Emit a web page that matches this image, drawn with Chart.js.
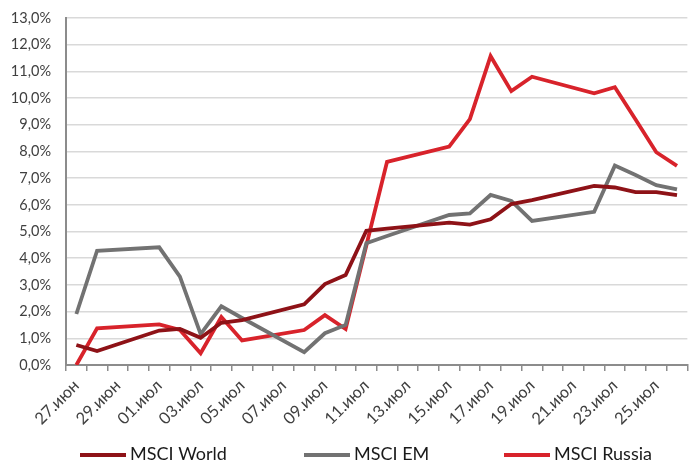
<!DOCTYPE html>
<html>
<head>
<meta charset="utf-8">
<script src="https://cdn.jsdelivr.net/npm/chart.js@4/dist/chart.umd.min.js"></script>
<style>
  html, body { margin: 0; padding: 0; background: #fff; overflow: hidden; }
  #wrap { width: 696px; height: 461px; }
</style>
</head>
<body>
<div id="wrap"><canvas id="chart" width="696" height="461"></canvas></div>
<script>
// days 27.06 - 26.07, one category per calendar day (weekends are null)
const days = ['27.июн','28.июн','29.июн','30.июн','01.июл','02.июл','03.июл','04.июл','05.июл','06.июл',
  '07.июл','08.июл','09.июл','10.июл','11.июл','12.июл','13.июл','14.июл','15.июл','16.июл',
  '17.июл','18.июл','19.июл','20.июл','21.июл','22.июл','23.июл','24.июл','25.июл','26.июл'];

const msciWorld = [0.75, 0.52, null, null, 1.29, 1.35, 1.02, 1.58, 1.68, null, null, 2.27, 3.03, 3.37, 5.03,
  5.11, null, null, 5.33, 5.26, 5.46, 6.03, 6.18, null, null, 6.71, 6.65, 6.48, 6.48, 6.36];
const msciEM = [1.91, 4.28, null, null, 4.41, 3.31, 1.16, 2.2, 1.76, null, null, 0.48, 1.19, 1.5, 4.56,
  4.83, null, null, 5.62, 5.68, 6.37, 6.15, 5.4, null, null, 5.74, 7.47, 7.12, 6.74, 6.58];
const msciRussia = [0.0, 1.37, null, null, 1.52, 1.31, 0.44, 1.8, 0.92, null, null, 1.31, 1.87, 1.35, 4.48,
  7.61, null, null, 8.18, 9.21, 11.57, 10.26, 10.8, null, null, 10.18, 10.41, 9.2, 7.97, 7.46];

const yMin = 0, yMax = 13, yStep = 1;

const FONT = 'Lato, "Open Sans", sans-serif';

// legend row drawn by hand: Excel spreads the items wider than Chart.js does
const legendX = [80, 304, 504];
const bottomLegend = {
  id: 'bottomLegend',
  afterDraw(chart) {
    const ctx = chart.ctx;
    ctx.save();
    ctx.font = '18px ' + FONT;
    ctx.textBaseline = 'middle';
    ctx.textAlign = 'left';
    chart.data.datasets.forEach((d, i) => {
      const x = legendX[i];
      ctx.strokeStyle = d.borderColor;
      ctx.lineWidth = 4;
      ctx.beginPath();
      ctx.moveTo(x, 455);
      ctx.lineTo(x + 46, 455);
      ctx.stroke();
      ctx.fillStyle = '#1a1a1a';
      ctx.fillText(d.label, x + 50, 454);
    });
    ctx.restore();
  }
};

function ds(label, data, color) {
  return {
    label, data,
    borderColor: color, backgroundColor: color,
    borderWidth: 3.8, pointRadius: 0, tension: 0, spanGaps: true
  };
}

new Chart(document.getElementById('chart'), {
  type: 'line',
  data: {
    labels: days,
    datasets: [
      ds('MSCI World', msciWorld, '#8E1217'),
      ds('MSCI EM', msciEM, '#727272'),
      ds('MSCI Russia', msciRussia, '#D8232B')
    ]
  },
  options: {
    responsive: false,
    animation: false,
    layout: { padding: { top: 18, right: 0, bottom: 30, left: 0 } },
    plugins: {
      tooltip: { enabled: false },
      legend: { display: false }
    },
    scales: {
      x: {
        offset: true,
        afterFit(scale) { scale.height = 66; },
        grid: { offset: true, drawOnChartArea: false, drawTicks: true, tickLength: 6, color: '#8c8c8c', lineWidth: 1.5 },
        border: { color: '#8c8c8c', width: 2 },
        ticks: {
          autoSkip: false, minRotation: 45, maxRotation: 45, padding: 5,
          font: { family: FONT, size: 16.5 }, color: '#404040',
          callback: (v, i) => (i % 2 === 0 ? days[i] : '')
        }
      },
      y: {
        min: yMin, max: yMax,
        afterFit(scale) { scale.width = 66; scale.paddingTop = 0; },
        grid: { color: '#d9d9d9', lineWidth: 1.5, drawTicks: false },
        border: { color: '#8c8c8c', width: 2 },
        ticks: {
          stepSize: yStep, padding: 15,
          font: { family: FONT, size: 14.5 }, color: '#404040',
          callback: v => v.toFixed(1).replace('.', ',') + '%'
        }
      }
    }
  },
  plugins: [bottomLegend]
});
</script>
</body>
</html>
